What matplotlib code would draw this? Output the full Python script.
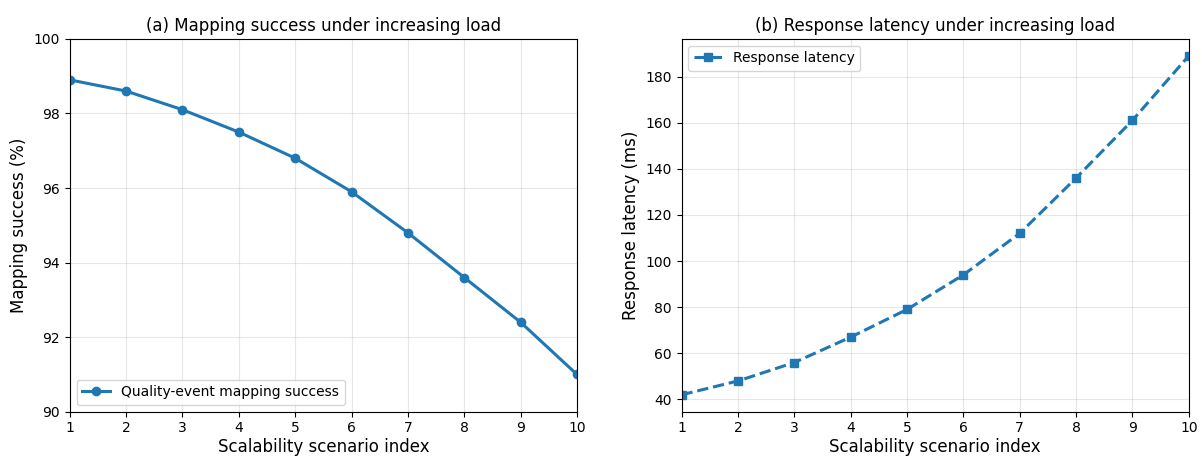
import matplotlib
matplotlib.use("Agg")
import matplotlib.pyplot as plt

# scenario index shared by both panels
scenarios = [1, 2, 3, 4, 5, 6, 7, 8, 9, 10]
mapping_success = [98.9, 98.6, 98.1, 97.5, 96.8, 95.9, 94.8, 93.6, 92.4, 91.0]
latency_ms = [42, 48, 56, 67, 79, 94, 112, 136, 161, 189]

fig, (ax1, ax2) = plt.subplots(1, 2, figsize=(12.02, 4.57), dpi=100)
ax1.set_position([0.058, 0.099, 0.422, 0.816])
ax2.set_position([0.567, 0.099, 0.422, 0.816])

ax1.plot(scenarios, mapping_success, marker="o", linewidth=2.2, markersize=6,
         color="#1f77b4", label="Quality-event mapping success")
ax1.set_xlim(1, 10)
ax1.set_ylim(90, 100)
ax1.set_xticks(scenarios)
ax1.set_title("(a) Mapping success under increasing load", fontsize=12)
ax1.set_xlabel("Scalability scenario index", fontsize=12, labelpad=2)
ax1.set_ylabel("Mapping success (%)", fontsize=12)
ax1.grid(True, alpha=0.3)
ax1.legend(loc="lower left")

ax2.plot(scenarios, latency_ms, marker="s", linestyle="--", linewidth=2.2, markersize=6,
         color="#1f77b4", label="Response latency")
ax2.set_xlim(1, 10)
ax2.set_xticks(scenarios)
ax2.set_title("(b) Response latency under increasing load", fontsize=12)
ax2.set_xlabel("Scalability scenario index", fontsize=12, labelpad=2)
ax2.set_ylabel("Response latency (ms)", fontsize=12)
ax2.grid(True, alpha=0.3)
ax2.legend(loc="upper left")

fig.savefig("out.png", dpi=100)
